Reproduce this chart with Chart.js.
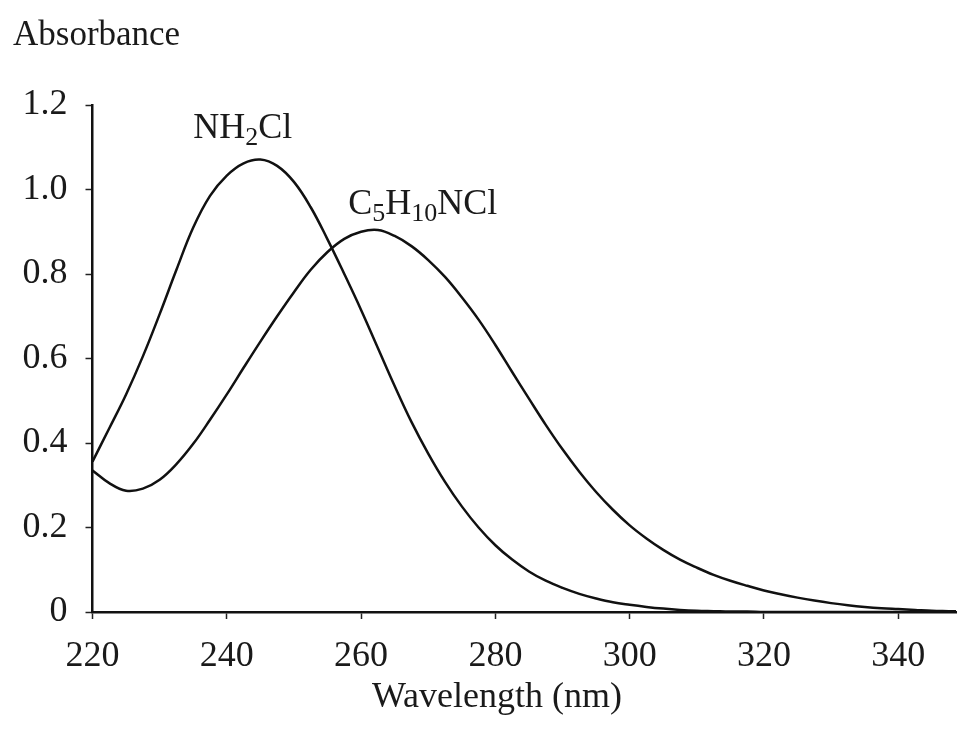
<!DOCTYPE html>
<html>
<head>
<meta charset="utf-8">
<script src="https://cdn.jsdelivr.net/npm/chart.js@4.4.1/dist/chart.umd.min.js"></script>
<style>
  html, body { margin: 0; padding: 0; background: #fff; }
  canvas { display: block; }
</style>
</head>
<body>
<canvas id="chart-espectro" width="957" height="740"></canvas>
<script>
// Espectro de absorcao - NH2Cl e C5H10NCl
const comprimentos = [
  220, 222.5, 225, 227.5, 230, 232.5, 235, 237.5, 240, 242.5,
  245, 247.5, 250, 252.5, 255, 257.5, 260, 262.5, 265, 267.5,
  270, 272.5, 275, 277.5, 280, 282.5, 285, 287.5, 290, 292.5,
  295, 297.5, 300, 302.5, 305, 307.5, 310, 312.5, 315, 317.5,
  320, 322.5, 325, 327.5, 330, 332.5, 335, 337.5, 340, 342.5,
  345, 347.5, 350,
];

const absNH2Cl = [
  0.356, 0.435, 0.515, 0.605, 0.705, 0.81, 0.91, 0.985, 1.033, 1.062,
  1.071, 1.056, 1.018, 0.958, 0.882, 0.8, 0.715, 0.625, 0.535, 0.45,
  0.375, 0.308, 0.25, 0.2, 0.158, 0.124, 0.096, 0.074, 0.057, 0.043,
  0.032, 0.023, 0.017, 0.012, 0.008, 0.005, 0.003, 0.002, 0.001, 0.001,
  0, 0, 0, 0, 0, 0, 0, 0, 0, 0,
  0, 0, 0,
];

const absC5H10NCl = [
  0.335, 0.305, 0.287, 0.292, 0.313, 0.35, 0.398, 0.455, 0.515, 0.578,
  0.64, 0.7, 0.757, 0.81, 0.852, 0.883, 0.9, 0.904, 0.89, 0.866,
  0.833, 0.793, 0.745, 0.692, 0.632, 0.568, 0.505, 0.443, 0.385, 0.332,
  0.284, 0.242, 0.205, 0.174, 0.147, 0.124, 0.105, 0.088, 0.074, 0.062,
  0.051, 0.042, 0.034, 0.027, 0.021, 0.016, 0.012, 0.009, 0.007, 0.005,
  0.003, 0.002, 0.001,
];

// rotulos das curvas (posicao em unidades dos eixos)
const rotulos = [
  { partes: [["NH", 0], ["2", 1], ["Cl", 0]], x: 235.0, y: 1.123 },
  { partes: [["C", 0], ["5", 1], ["H", 0], ["10", 1], ["NCl", 0]], x: 258.1, y: 0.941 },
];

const tituloY = "Absorbance";
const tituloX = "Wavelength (nm)";

const fonte = '"Liberation Serif", "Times New Roman", serif';
const corTexto = "#1a1a1a";

const pontos = (ys) => comprimentos.map((x, i) => ({ x, y: ys[i] }));

// desenha texto com subscritos
const desenhaQuimico = (ctx, partes, x, y) => {
  let cx = x;
  partes.forEach(([txt, sub]) => {
    ctx.font = sub ? `26px ${fonte}` : `36px ${fonte}`;
    ctx.fillText(txt, cx, sub ? y + 7 : y);
    cx += ctx.measureText(txt).width;
  });
};

const textosPlugin = {
  id: "textos",
  afterDraw(chart) {
    const { ctx } = chart;
    const { x, y } = chart.scales;
    ctx.save();
    ctx.fillStyle = corTexto;
    ctx.textBaseline = "alphabetic";
    ctx.textAlign = "left";
    ctx.font = `35px ${fonte}`;
    ctx.fillText(tituloY, 13, 45);
    ctx.textAlign = "center";
    ctx.font = `36px ${fonte}`;
    ctx.fillText(tituloX, 497, 707);
    ctx.textAlign = "left";
    rotulos.forEach((r) =>
      desenhaQuimico(ctx, r.partes, x.getPixelForValue(r.x), y.getPixelForValue(r.y))
    );
    ctx.restore();
  },
};

const ctx = document.getElementById("chart-espectro").getContext("2d");
new Chart(ctx, {
  type: "line",
  data: {
    datasets: [
      {
        label: "NH2Cl",
        data: pontos(absNH2Cl),
        borderColor: "#111",
        borderWidth: 2.5,
        pointRadius: 0,
        tension: 0.4,
        fill: false,
      },
      {
        label: "C5H10NCl",
        data: pontos(absC5H10NCl),
        borderColor: "#111",
        borderWidth: 2.5,
        pointRadius: 0,
        tension: 0.4,
        fill: false,
      },
    ],
  },
  options: {
    responsive: false,
    animation: false,
    layout: { padding: { top: 105, right: 1, left: 0, bottom: 0 } },
    plugins: {
      legend: { display: false },
      tooltip: { enabled: false },
    },
    scales: {
      x: {
        type: "linear",
        min: 220,
        max: 348.6,
        afterFit: (s) => { s.height = 128; },
        border: { display: true, color: "#111", width: 2.5 },
        grid: {
          drawOnChartArea: false,
          drawTicks: true,
          tickLength: 7,
          tickColor: "#222",
          tickWidth: 1.5,
        },
        ticks: {
          stepSize: 20,
          includeBounds: false,
          maxRotation: 0,
          padding: 16,
          color: corTexto,
          font: { family: fonte, size: 36 },
        },
      },
      y: {
        min: 0,
        max: 1.2,
        afterFit: (s) => { s.width = 92.5; },
        border: { display: true, color: "#111", width: 2.5 },
        grid: {
          drawOnChartArea: false,
          drawTicks: true,
          tickLength: 7,
          tickColor: "#222",
          tickWidth: 1.5,
        },
        ticks: {
          stepSize: 0.2,
          padding: 18,
          color: corTexto,
          font: { family: fonte, size: 36 },
          callback: (v) => (v === 0 ? "0" : v.toFixed(1)),
        },
      },
    },
  },
  plugins: [textosPlugin],
});
</script>
</body>
</html>
